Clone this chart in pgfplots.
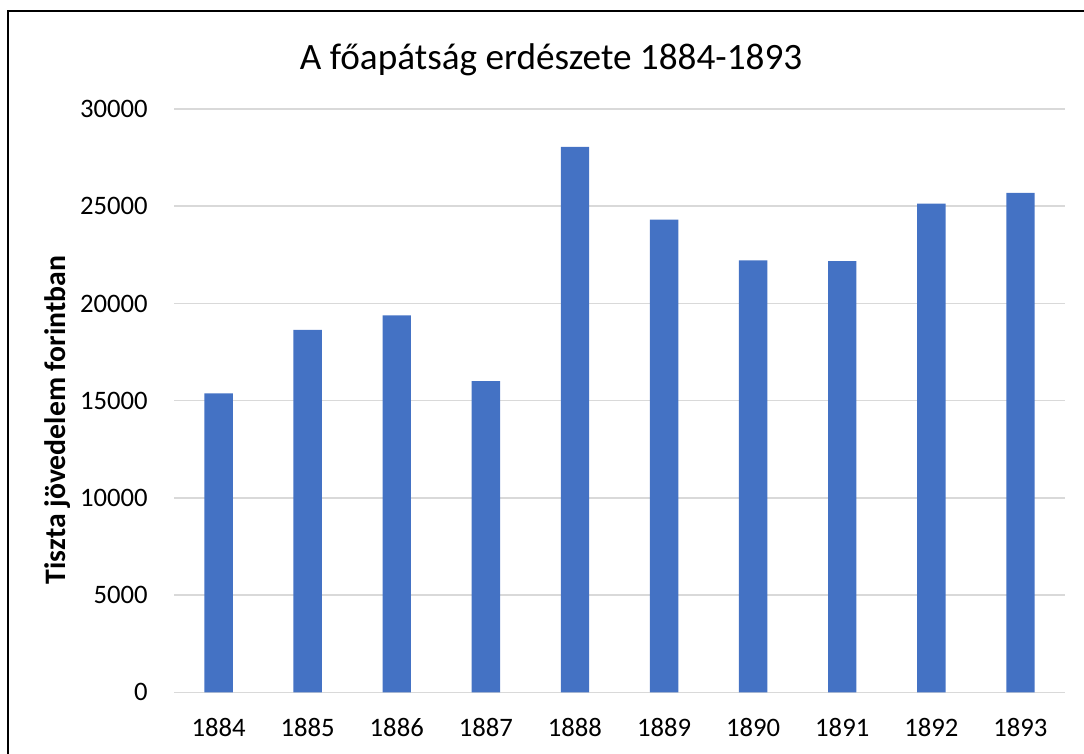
\documentclass[border=0pt]{standalone}
\usepackage{pgfplots}
\pgfplotsset{compat=1.18}
\usepackage{fontspec}
\setmainfont{Carlito}
\definecolor{barblue}{HTML}{4472C4}
\definecolor{gridgray}{HTML}{D9D9D9}
\begin{document}
\begin{tikzpicture}
\useasboundingbox (0,0) rectangle (813pt,564.75pt);
\begin{scope}
\clip (0,0) rectangle (813pt,564.75pt);
\draw[line width=1.75pt] (5.9pt,556.6pt) rectangle (900pt,-50pt);
\end{scope}
\begin{axis}[
  at={(130.5pt,45.5pt)}, anchor=south west,
  scale only axis, width=668.25pt, height=437.5pt,
  xmin=-0.5, xmax=9.5, ymin=0, ymax=30000,
  ytick={0,5000,...,30000},
  scaled y ticks=false,
  xtick={0,...,9},
  xticklabels={1884,1885,1886,1887,1888,1889,1890,1891,1892,1893},
  ymajorgrids, grid style={gridgray, line width=1.1pt},
  axis line style={draw=none},
  major tick style={draw=none},
  /pgf/number format/assume math mode=true,
  /pgf/number format/1000 sep={},
  tick label style={font=\fontsize{20}{24}\selectfont, inner sep=0pt},
  yticklabel style={xshift=-19.5pt},
  xticklabel style={yshift=-19.5pt},
  clip=false,
]
\addplot[ybar, bar width=21.3pt, fill=barblue, draw=none] coordinates {
 (0,15380) (1,18640) (2,19390) (3,16010) (4,28050)
 (5,24310) (6,22220) (7,22170) (8,25130) (9,25680)
};
\end{axis}
\node[anchor=base, font=\fontsize{27.9}{32}\selectfont] at (413.25pt,512.25pt) {A főapátság erdészete 1884-1893};
\node[rotate=90, font=\bfseries\fontsize{22.3}{26}\selectfont] at (43.5pt,249.75pt) {Tiszta jövedelem forintban};
\end{tikzpicture}
\end{document}
